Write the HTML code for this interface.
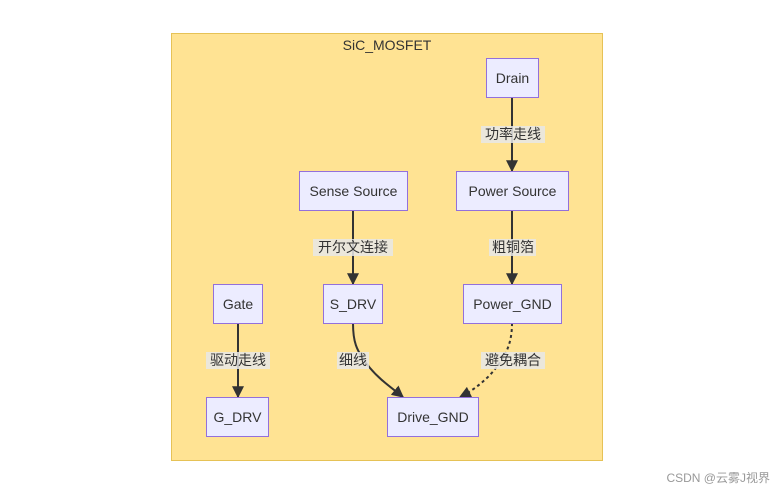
<!DOCTYPE html>
<html><head><meta charset="utf-8"><style>
body{margin:0;background:#fff;width:782px;height:492px;overflow:hidden;font-family:"Liberation Sans","Noto Sans CJK SC",sans-serif;}
</style></head><body>
<svg width="782" height="492" viewBox="0 0 782 492" xmlns="http://www.w3.org/2000/svg" font-family="Liberation Sans, Noto Sans CJK SC, sans-serif" font-size="14">
<defs><marker id="a" viewBox="0 0 10 10" refX="9" refY="5" markerWidth="8" markerHeight="8" orient="auto-start-reverse" markerUnits="userSpaceOnUse"><path d="M0,0L10,5L0,10z" fill="#333"/></marker>
<marker id="b" viewBox="0 0 10 10" refX="9" refY="5" markerWidth="12" markerHeight="12" orient="auto" markerUnits="userSpaceOnUse"><path d="M0,0L10,5L0,10z" fill="#333"/></marker></defs>
<rect x="171.5" y="33.5" width="431" height="427" fill="#ffe393" stroke="#e6c256" stroke-width="1"/>
<text x="387" y="50" text-anchor="middle" fill="#333">SiC_MOSFET</text>
<g stroke="#333" stroke-width="2" fill="none">
<path d="M512,97V171" marker-end="url(#b)"/>
<path d="M512,211V284" marker-end="url(#b)"/>
<path d="M353,211V284" marker-end="url(#b)"/>
<path d="M238,323V397" marker-end="url(#b)"/>
<path d="M353,323C353,340 355,350 370,368C380,380 392,388 403,397" marker-end="url(#b)"/>
<path d="M512,323C512,345 505,358 490,375C480,385 470,392 460,397" stroke-dasharray="3,3" marker-end="url(#b)"/>
</g>
<g fill="#e8e8e8" opacity="0.85">
<rect x="481" y="126" width="64" height="17"/><rect x="489" y="239" width="47" height="17"/>
<rect x="313" y="239" width="80" height="17"/><rect x="206" y="352" width="64" height="17"/>
<rect x="337" y="352" width="32" height="17"/><rect x="481" y="352" width="64" height="17"/>
</g>
<g text-anchor="middle" fill="#333">
<text x="513" y="139">功率走线</text><text x="513" y="252">粗铜箔</text>
<text x="353" y="252">开尔文连接</text><text x="238" y="365">驱动走线</text>
<text x="353" y="365">细线</text><text x="513" y="365">避免耦合</text>
</g>
<g fill="#ececff" stroke="#9370db" stroke-width="1">
<rect x="486.5" y="58.5" width="52" height="39"/>
<rect x="456.5" y="171.5" width="112" height="39"/>
<rect x="299.5" y="171.5" width="108" height="39"/>
<rect x="213.5" y="284.5" width="49" height="39"/>
<rect x="323.5" y="284.5" width="59" height="39"/>
<rect x="463.5" y="284.5" width="98" height="39"/>
<rect x="206.5" y="397.5" width="62" height="39"/>
<rect x="387.5" y="397.5" width="91" height="39"/>
</g>
<g text-anchor="middle" fill="#333">
<text x="512.5" y="83">Drain</text><text x="512.5" y="196">Power Source</text>
<text x="353.5" y="196">Sense Source</text><text x="238" y="309">Gate</text>
<text x="353" y="309">S_DRV</text><text x="512.5" y="309">Power_GND</text>
<text x="237.5" y="422">G_DRV</text><text x="433" y="422">Drive_GND</text>
</g>
<text x="770" y="482" text-anchor="end" font-size="12" fill="#999">CSDN @云雾J视界</text>
</svg>
</body></html>
